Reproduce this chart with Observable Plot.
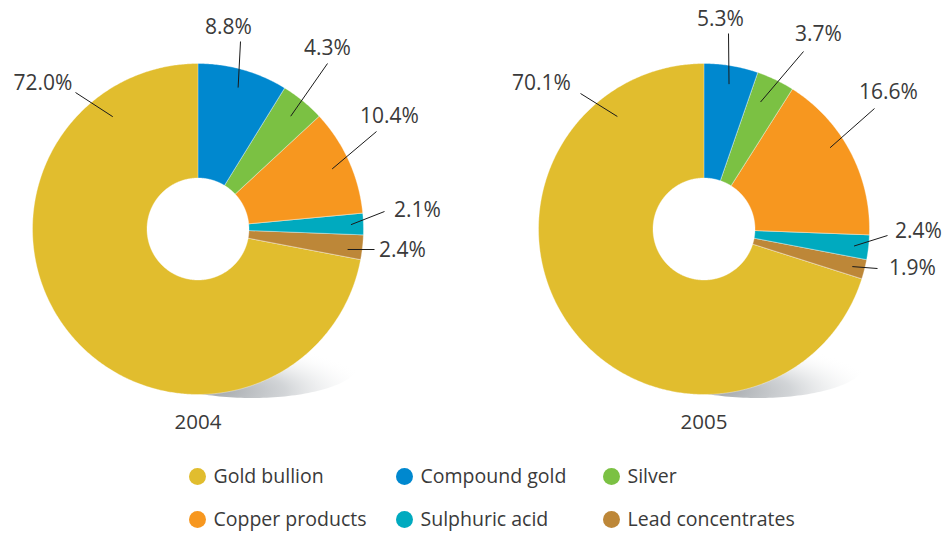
<!DOCTYPE html>
<html><head><meta charset="utf-8">
<script src="https://cdn.jsdelivr.net/npm/d3@7"></script>
<script src="https://cdn.jsdelivr.net/npm/@observablehq/plot@0.6"></script>
<style>body{margin:0;background:#fff;} #chart svg{display:block;}</style>
</head><body><div id="chart"></div>
<script>
// ---- data ----
const categories = ["Gold bullion", "Compound gold", "Silver", "Copper products", "Sulphuric acid", "Lead concentrates"];
const colors = ["#e1bd2e", "#0088cf", "#7bc143", "#f7971f", "#00aabf", "#bd8738"];
const years = ["2004", "2005"];
const values2004 = [72.0, 8.8, 4.3, 10.4, 2.1, 2.4];
const values2005 = [70.1, 5.3, 3.7, 16.6, 2.4, 1.9];
const pieOrder = ["Compound gold", "Silver", "Copper products", "Sulphuric acid", "Lead concentrates", "Gold bullion"];

// ---- layout ----
const W = 947, H = 535;
const centers = [[197.5, 228.5], [703.5, 228.5]];
const R = 165.5, R0 = 51;
// label layout per pie, in pie order: text offset (tx,ty), leader outer end (ex,ey), leader inner anchor angle override (deg) & radius
const labelLayout = [
  [
    {tx: 30.5, ty: -202, ex: 42.5, ey: -187.5, r: 147},
    {tx: 129.5, ty: -181, ex: 129.5, ey: -165.5, r: 146},
    {tx: 191.5, ty: -113, ex: 178.5, ey: -97.5, r: 147},
    {tx: 219.5, ty: -19, ex: 186.5, ey: -17.5, r: 153},
    {tx: 204.5, ty: 21, ex: 176.5, ey: 20.5, r: 151, a: 97.8},
    {tx: -155, ty: -146, ex: -122.5, ey: -136.5, r: 141, a: 322.8}
  ],
  [
    {tx: 16.5, ty: -210, ex: 24.5, ey: -195.5, r: 147, a: 9.8},
    {tx: 114.5, ty: -195, ex: 99.5, ey: -177.5, r: 139, a: 24},
    {tx: 184.5, ty: -137, ex: 170.5, ey: -120.5, r: 150, a: 57.2},
    {tx: 214.5, ty: 2, ex: 183.5, ey: 6.5, r: 151},
    {tx: 208.5, ty: 39, ex: 173.5, ey: 39.5, r: 153},
    {tx: -162.5, ty: -146, ex: -123.5, ey: -135.5, r: 142, a: 322.4}
  ]
];
const fmt = v => v.toFixed(1) + "%";

const slices = [], labels = [], leaders = [], shadows = [], yearLabels = [];
years.forEach((yr, k) => {
  const vals = k === 0 ? values2004 : values2005;
  const total = d3.sum(vals);
  const [cx, cy] = centers[k];
  let acc = 0;
  pieOrder.forEach((cat, j) => {
    const v = vals[categories.indexOf(cat)];
    const a0 = acc / total * 2 * Math.PI, a1 = (acc + v) / total * 2 * Math.PI;
    acc += v;
    const n = Math.max(2, Math.ceil((a1 - a0) / (Math.PI / 360)));
    const id = yr + "|" + cat;
    for (let i = 0; i <= n; i++) {
      const a = a0 + (a1 - a0) * i / n;
      slices.push({id, cat, x: cx + R * Math.sin(a), y: cy - R * Math.cos(a)});
    }
    for (let i = n; i >= 0; i--) {
      const a = a0 + (a1 - a0) * i / n;
      slices.push({id, cat, x: cx + R0 * Math.sin(a), y: cy - R0 * Math.cos(a)});
    }
    const L = labelLayout[k][j];
    const am = L.a != null ? L.a * Math.PI / 180 : (a0 + a1) / 2;
    labels.push({x: cx + L.tx, y: cy + L.ty, text: fmt(v)});
    leaders.push({x1: cx + L.ex, y1: cy + L.ey, x2: cx + L.r * Math.sin(am), y2: cy - L.r * Math.cos(am)});
  });
  // soft shadow below-right of each pie
  for (let i = 0; i < 180; i++) {
    const t = i / 180 * 2 * Math.PI;
    shadows.push({id: yr, x: cx + 54 + 106 * Math.cos(t), y: cy + 136 + 33 * Math.sin(t)});
  }
  yearLabels.push({x: cx, y: cy + 193.5, text: yr});
});

const legend = categories.map((cat, i) => ({cat, x: 197 + (i % 3) * 207, y: 476 + Math.floor(i / 3) * 43}));

const chart = Plot.plot({
  width: W, height: H, margin: 0,
  x: {domain: [0, W], range: [0, W], axis: null},
  y: {domain: [0, H], range: [0, H], axis: null},
  color: {domain: categories, range: colors},
  style: {fontFamily: "'Open Sans', 'Noto Sans', sans-serif", background: "#fff", color: "#3a3a3a"},
  marks: [
    Plot.line(shadows, {x: "x", y: "y", z: "id", fill: "url(#pieShadow)", stroke: "none", curve: "linear-closed"}),
    Plot.line(slices, {x: "x", y: "y", z: "id", fill: "cat", stroke: "#ffffff", strokeWidth: 0.6, strokeOpacity: 0.6, curve: "linear-closed"}),
    Plot.link(leaders, {x1: "x1", y1: "y1", x2: "x2", y2: "y2", stroke: "#1a1a1a", strokeWidth: 1}),
    Plot.text(labels, {x: "x", y: "y", text: "text", fontSize: 21, fill: "#3a3a3a"}),
    Plot.text(yearLabels, {x: "x", y: "y", text: "text", fontSize: 20.5, fill: "#3a3a3a"}),
    Plot.dot(legend, {x: "x", y: "y", r: 8.5, fill: "cat", stroke: "none"}),
    Plot.text(legend, {x: d => d.x + 16, y: "y", text: "cat", textAnchor: "start", fontSize: 19.5, fill: "#3a3a3a"})
  ]
});
chart.insertAdjacentHTML("afterbegin",
  `<defs><radialGradient id="pieShadow" cx="0.32" cy="0.9" r="0.75">
     <stop offset="0" stop-color="#a3a7ab" stop-opacity="1"/>
     <stop offset="0.45" stop-color="#cdd0d3" stop-opacity="0.9"/>
     <stop offset="1" stop-color="#ffffff" stop-opacity="0"/>
   </radialGradient></defs>`);
document.getElementById("chart").appendChild(chart);
</script>
</body></html>
